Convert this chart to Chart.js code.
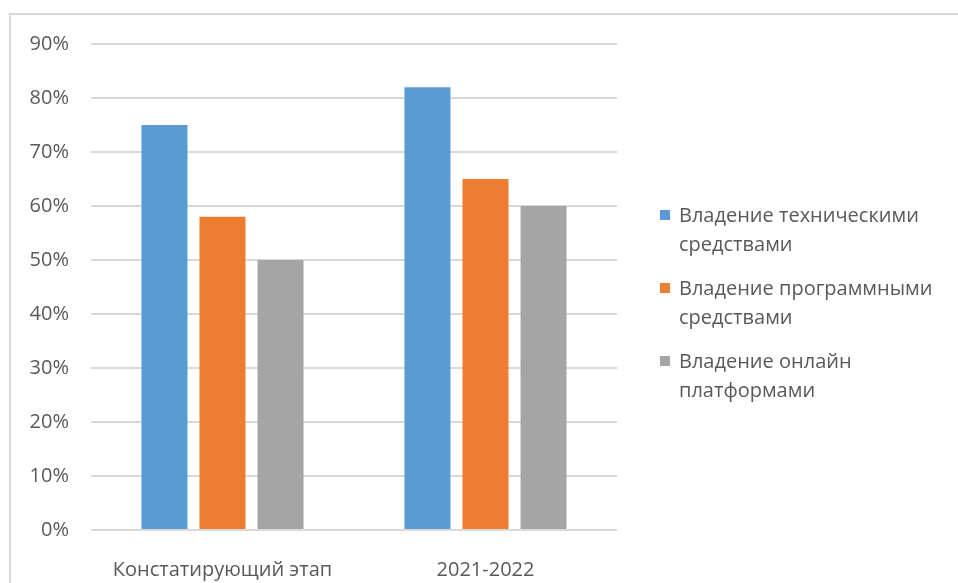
<!DOCTYPE html>
<html>
<head>
<meta charset="utf-8">
<script src="https://cdn.jsdelivr.net/npm/chart.js@4"></script>
<style>
  html, body { margin: 0; padding: 0; background: #fff; }
  body { width: 958px; height: 583px; position: relative; overflow: hidden; font-family: "Open Sans", sans-serif; }
  .frame { position: absolute; left: 9px; top: 13px; right: -2px; bottom: -2px; border: 2px solid #d9d9d9; }
  #wrap { position: absolute; left: 0; top: 0; width: 958px; height: 583px; }
  #legend { position: absolute; left: 660px; top: 200px; color: #595959; font-size: 20px; line-height: 29px; }
  #legend .item { position: relative; padding-left: 19px; margin-bottom: 15px; }
  #legend .box { position: absolute; left: 0; top: 10px; width: 10px; height: 10px; }
</style>
</head>
<body>
<div class="frame"></div>
<div id="wrap"><canvas id="chart"></canvas></div>
<div id="legend"></div>
<script>
const categories = ['Констатирующий этап', '2021-2022'];
const seriesNames = [
    ['Владение техническими', 'средствами'],
    ['Владение программными', 'средствами'],
    ['Владение онлайн', 'платформами']
];
const technicalValues = [75, 82];
const softwareValues  = [58, 65];
const onlineValues    = [50, 60];
const seriesColors = ['#5b9bd5', '#ed7d31', '#a5a5a5'];
const yTicks = [0, 10, 20, 30, 40, 50, 60, 70, 80, 90];

const textColor = '#595959';
const font = { family: '"Open Sans", sans-serif', size: 20 };

const datasets = [technicalValues, softwareValues, onlineValues].map(function (values, i) {
    return {
        label: seriesNames[i].join(' '),
        data: values,
        backgroundColor: seriesColors[i],
        categoryPercentage: 0.662,
        barPercentage: 0.793
    };
});

const chart = new Chart(document.getElementById('chart').getContext('2d'), {
    type: 'bar',
    data: { labels: categories, datasets: datasets },
    options: {
        responsive: true,
        maintainAspectRatio: false,
        animation: false,
        layout: { padding: { left: 10, right: 341, top: 44, bottom: 0 } },
        plugins: {
            legend: { display: false },
            tooltip: { enabled: false }
        },
        scales: {
            x: {
                grid: { display: false },
                border: { display: false },
                ticks: { color: textColor, font: font, padding: 20, maxRotation: 0 },
                afterFit: function (scale) { scale.height = 53; }
            },
            y: {
                min: 0,
                max: 90,
                afterBuildTicks: function (scale) {
                    scale.ticks = yTicks.map(function (v) { return { value: v }; });
                },
                grid: { color: '#d9d9d9', lineWidth: 2, drawTicks: false },
                border: { display: false },
                ticks: {
                    color: textColor,
                    font: font,
                    padding: 22,
                    callback: function (v) { return v + '%'; }
                },
                afterFit: function (scale) { scale.width = 81; }
            }
        }
    }
});

// legend with wrapped labels, built from the datasets
const legendEl = document.getElementById('legend');
chart.data.datasets.forEach(function (ds, i) {
    const item = document.createElement('div');
    item.className = 'item';
    const box = document.createElement('span');
    box.className = 'box';
    box.style.background = ds.backgroundColor;
    item.appendChild(box);
    seriesNames[i].forEach(function (line) {
        const l = document.createElement('div');
        l.textContent = line;
        item.appendChild(l);
    });
    legendEl.appendChild(item);
});
</script>
</body>
</html>
